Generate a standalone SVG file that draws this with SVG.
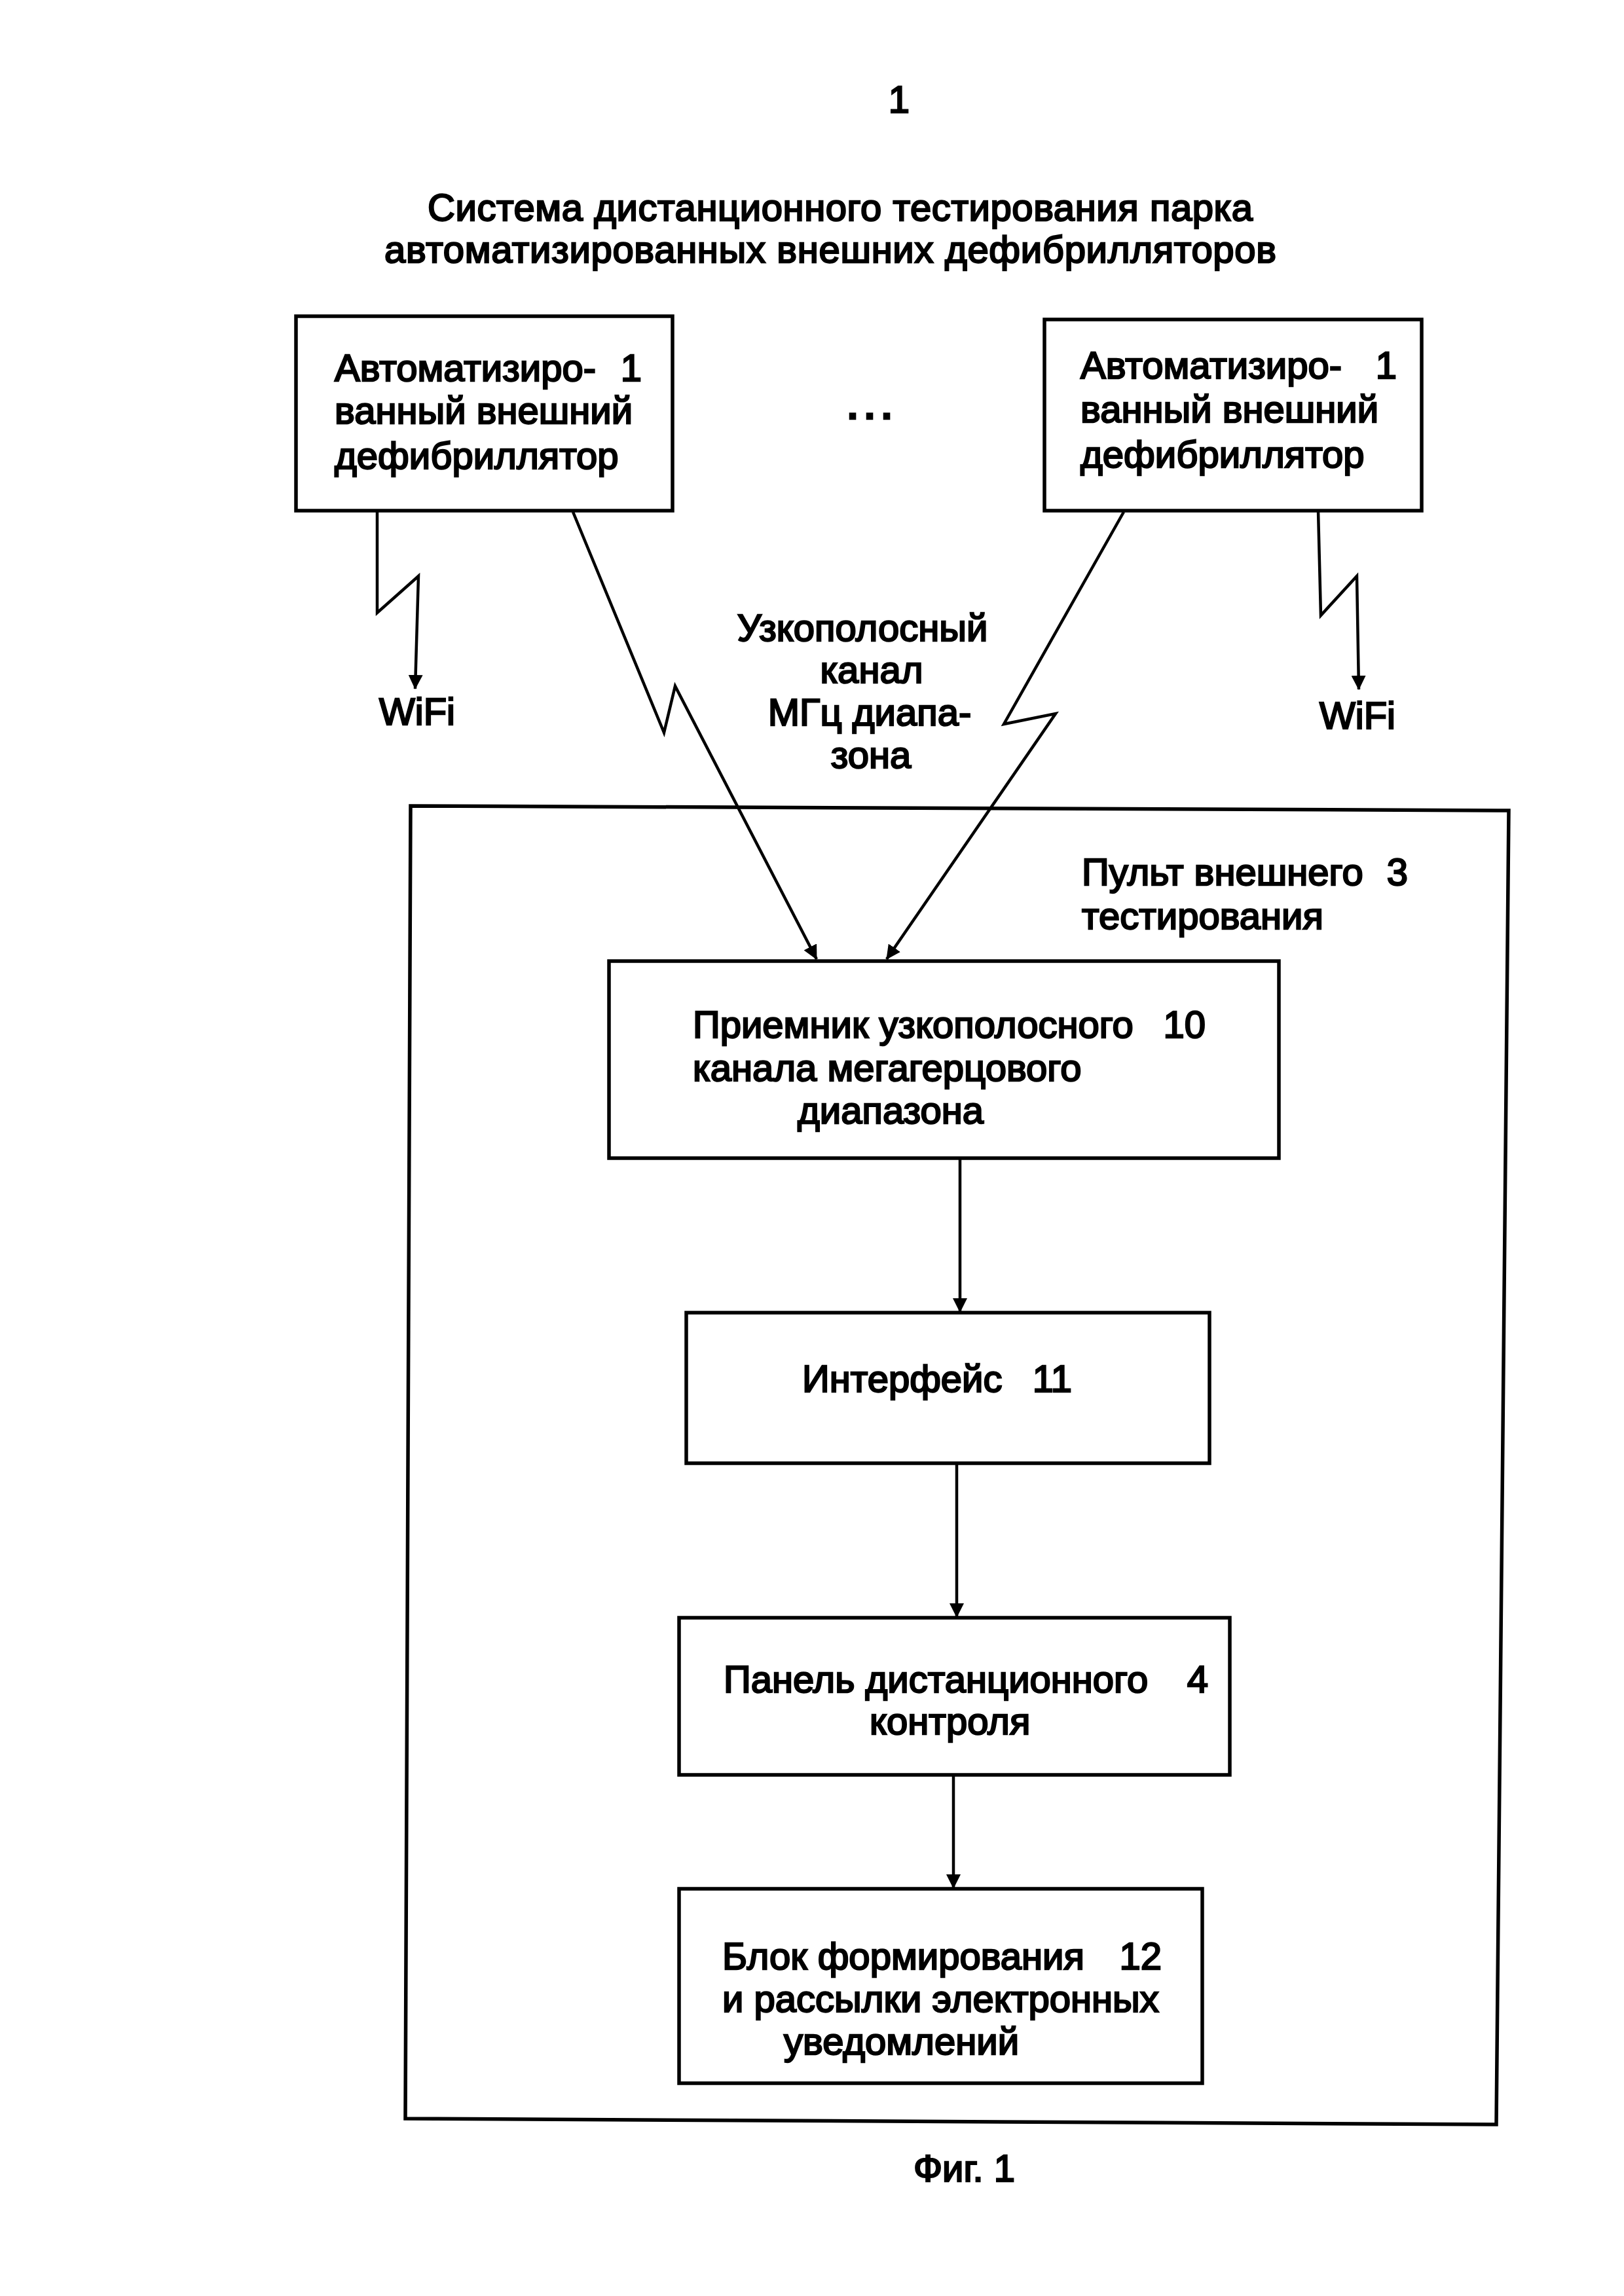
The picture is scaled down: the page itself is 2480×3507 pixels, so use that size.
<svg xmlns="http://www.w3.org/2000/svg" width="2480" height="3507" viewBox="0 0 2480 3507">
<style>
.box{fill:none;stroke:#000;stroke-width:5.5}
.t{font-family:"Liberation Sans",Arial,sans-serif;font-size:58px;fill:#000;stroke:#000;stroke-width:2.4}
.m{text-anchor:middle}
.e{text-anchor:end}
.conn{fill:none;stroke:#000;stroke-width:4.5;stroke-linejoin:miter;marker-end:url(#arr)}
</style>
<defs>
<marker id="arr" viewBox="0 0 22 22" markerWidth="22" markerHeight="22" refX="21" refY="11" orient="auto" markerUnits="userSpaceOnUse">
<path d="M0,0 L22,11 L0,22 z" fill="#000"/>
</marker>
</defs>
<rect width="2480" height="3507" fill="#fff"/>

<g id="page-number"><text class="t m" x="1373" y="172">1</text></g>
<g id="title">
<text class="t" x="653" y="337" textLength="1260">Система дистанционного тестирования парка</text>
<text class="t" x="587" y="401" textLength="1362">автоматизированных внешних дефибрилляторов</text>
</g>

<g id="aed-left">
<rect class="box" x="452" y="483" width="575" height="297"/>
<text class="t" x="511" y="582">Автоматизиро-</text>
<text class="t e" x="980" y="582">1</text>
<text class="t" x="511" y="647">ванный внешний</text>
<text class="t" x="511" y="716">дефибриллятор</text>
</g>

<g id="ellipsis"><text class="t m" x="1328" y="640" textLength="68" font-weight="bold">...</text></g>

<g id="aed-right">
<rect class="box" x="1595" y="488" width="576" height="292"/>
<text class="t" x="1650" y="578">Автоматизиро-</text>
<text class="t e" x="2133" y="578">1</text>
<text class="t" x="1650" y="645">ванный внешний</text>
<text class="t" x="1650" y="714">дефибриллятор</text>
</g>

<g id="wifi-left"><text class="t" x="579" y="1107">WiFi</text></g>
<g id="wifi-right"><text class="t" x="2015" y="1113">WiFi</text></g>

<g id="channel-label">
<text class="t m" x="1317" y="979">Узкополосный</text>
<text class="t m" x="1331" y="1043">канал</text>
<text class="t m" x="1328" y="1108">МГц диапа-</text>
<text class="t m" x="1330" y="1173">зона</text>
</g>

<g id="console">
<polygon class="box" points="627,1231 2304,1238 2285,3245 619,3236"/>
<text class="t" x="1652" y="1352">Пульт внешнего</text>
<text class="t e" x="2150" y="1352">3</text>
<text class="t" x="1652" y="1419">тестирования</text>
</g>

<g id="receiver">
<rect class="box" x="930" y="1468" width="1023" height="301"/>
<text class="t" x="1058" y="1585">Приемник узкополосного</text>
<text class="t e" x="1841" y="1585">10</text>
<text class="t" x="1058" y="1651">канала мегагерцового</text>
<text class="t" x="1218" y="1716">диапазона</text>
</g>

<g id="interface">
<rect class="box" x="1048" y="2005" width="799" height="230"/>
<text class="t" x="1225" y="2126">Интерфейс</text>
<text class="t e" x="1637" y="2126">11</text>
</g>

<g id="panel">
<rect class="box" x="1037" y="2471" width="841" height="240"/>
<text class="t" x="1105" y="2585">Панель дистанционного</text>
<text class="t e" x="1845" y="2585">4</text>
<text class="t" x="1328" y="2649">контроля</text>
</g>

<g id="notify">
<rect class="box" x="1037" y="2885" width="799" height="297"/>
<text class="t" x="1103" y="3008">Блок формирования</text>
<text class="t e" x="1774" y="3008">12</text>
<text class="t" x="1103" y="3073">и рассылки электронных</text>
<text class="t" x="1197" y="3138">уведомлений</text>
</g>

<g id="caption"><text class="t" x="1395" y="3332">Фиг. 1</text></g>

<g id="connectors">
<path class="conn" d="M576,782 L576,936 L639,880 L634,1052"/>
<path class="conn" d="M2013,780 L2017,940 L2072,880 L2075,1053"/>
<path class="conn" d="M875,782 L1014,1119 L1031,1048 L1247,1465"/>
<path class="conn" d="M1716,782 L1533,1106 L1612,1090 L1354,1465"/>
<path class="conn" d="M1466,1769 L1466,2004"/>
<path class="conn" d="M1461,2235 L1461,2470"/>
<path class="conn" d="M1456,2711 L1456,2884"/>
</g>
</svg>
